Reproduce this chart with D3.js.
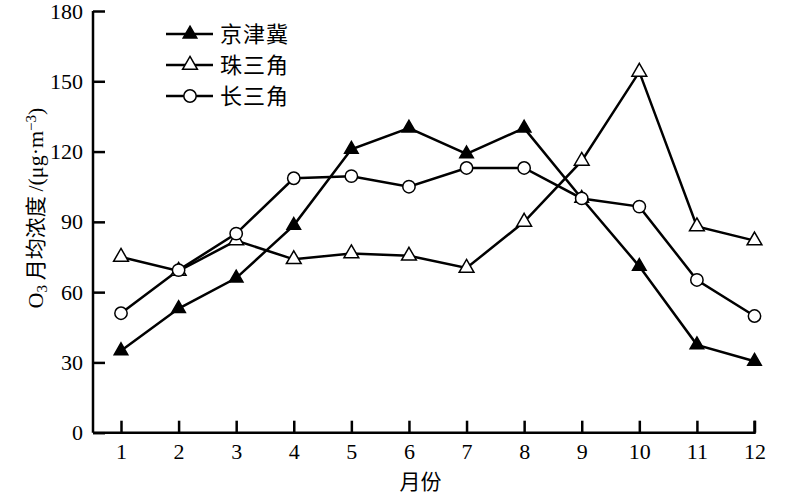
<!DOCTYPE html>
<html>
<head>
<meta charset="utf-8">
<script src="https://d3js.org/d3.v7.min.js"></script>
<style>
  body { margin: 0; background: #fff; }
  text { font-family: "Liberation Serif", "Noto Sans CJK SC", serif; fill: #000; }
</style>
</head>
<body>
<svg width="800" height="499"></svg>
<script>
// data
var months = [1, 2, 3, 4, 5, 6, 7, 8, 9, 10, 11, 12];
var jjj = [35, 53, 66, 88.5, 121, 130, 119, 130, 100, 71, 37.5, 30.5];   // 京津冀
var zsj = [75, 69, 82, 74, 76.5, 75.5, 70.3, 90, 116, 154, 88, 82];      // 珠三角
var csj = [51, 69.4, 85, 108.6, 109.5, 105, 113, 113, 100, 96.5, 65.2, 49.8]; // 长三角
var seriesNames = ["京津冀", "珠三角", "长三角"];
var yTicks = [0, 30, 60, 90, 120, 150, 180];

var svg = d3.select("svg");

var x = d3.scaleLinear().domain([1, 12]).range([121, 754.5]);
var y = d3.scaleLinear().domain([0, 180]).range([432.7, 11]);

// axes
var xAxis = svg.append("g")
  .attr("transform", "translate(0," + y(0) + ")")
  .call(d3.axisBottom(x).tickValues(months).tickSize(-12).tickPadding(22).tickFormat(d3.format("d")));
xAxis.select(".domain").attr("d", "M93,0H" + x(12) + "V-12");

var yAxis = svg.append("g")
  .attr("transform", "translate(93,0)")
  .call(d3.axisLeft(y).tickValues(yTicks).tickSize(-12).tickPadding(22));
yAxis.select(".domain").attr("d", "M0," + y(0) + "V" + y(180));

svg.selectAll(".domain, .tick line").attr("stroke", "#000").attr("stroke-width", 2.5);
svg.selectAll(".tick text").style("font-size", "22px").style("font-family", "Liberation Serif");
xAxis.selectAll(".tick text").attr("dy", "0.35em").attr("y", 19);
yAxis.selectAll(".tick text").attr("x", -10);

// axis titles
svg.append("text")
  .attr("x", x(6.2)).attr("y", 489)
  .attr("text-anchor", "middle")
  .style("font-size", "21px")
  .style("font-family", "Noto Sans CJK SC")
  .text("月份");

var yl = svg.append("text")
  .attr("transform", "translate(43,208) rotate(-90)")
  .attr("text-anchor", "middle")
  .style("font-size", "22px");
yl.append("tspan").text("O");
yl.append("tspan").attr("baseline-shift", "-25%").style("font-size", "15px").text("3");
yl.append("tspan").style("font-family", "Noto Sans CJK SC").style("font-size", "21px").text(" 月均浓度 ");
yl.append("tspan").text("/(μg·m");
yl.append("tspan").attr("baseline-shift", "45%").style("font-size", "15px").text("−3");
yl.append("tspan").text(")");

// lines
var line = d3.line().x(function(d, i) { return x(months[i]); }).y(function(d) { return y(d); });

var series = [
  { name: seriesNames[0], values: jjj, shape: d3.symbolTriangle, fill: "#000", size: 80 },
  { name: seriesNames[1], values: zsj, shape: d3.symbolTriangle, fill: "#fff", size: 95 },
  { name: seriesNames[2], values: csj, shape: d3.symbolCircle, fill: "#fff", size: 120 }
];

series.forEach(function(s) {
  svg.append("path")
    .datum(s.values)
    .attr("d", line)
    .attr("fill", "none")
    .attr("stroke", "#000")
    .attr("stroke-width", 2.5);
});

series.forEach(function(s) {
  svg.append("g").selectAll("path")
    .data(s.values)
    .enter()
    .append("path")
    .attr("transform", function(d, i) { return "translate(" + x(months[i]) + "," + y(d) + ")"; })
    .attr("d", d3.symbol().type(s.shape).size(s.size))
    .attr("fill", s.fill)
    .attr("stroke", "#000")
    .attr("stroke-width", 1.5);
});

// legend
var legend = svg.append("g");
series.forEach(function(s, i) {
  var ly = 34 + i * 31;
  legend.append("line")
    .attr("x1", 166).attr("x2", 213).attr("y1", ly).attr("y2", ly)
    .attr("stroke", "#000").attr("stroke-width", 2.5);
  legend.append("path")
    .attr("transform", "translate(190," + ly + ")")
    .attr("d", d3.symbol().type(s.shape).size(s.size))
    .attr("fill", s.fill)
    .attr("stroke", "#000")
    .attr("stroke-width", 1.5);
  legend.append("text")
    .attr("x", 220).attr("y", ly)
    .attr("dy", "0.36em")
    .style("font-size", "22px")
    .style("font-family", "Noto Sans CJK SC")
    .style("letter-spacing", "1px")
    .text(s.name);
});
</script>
</body>
</html>
